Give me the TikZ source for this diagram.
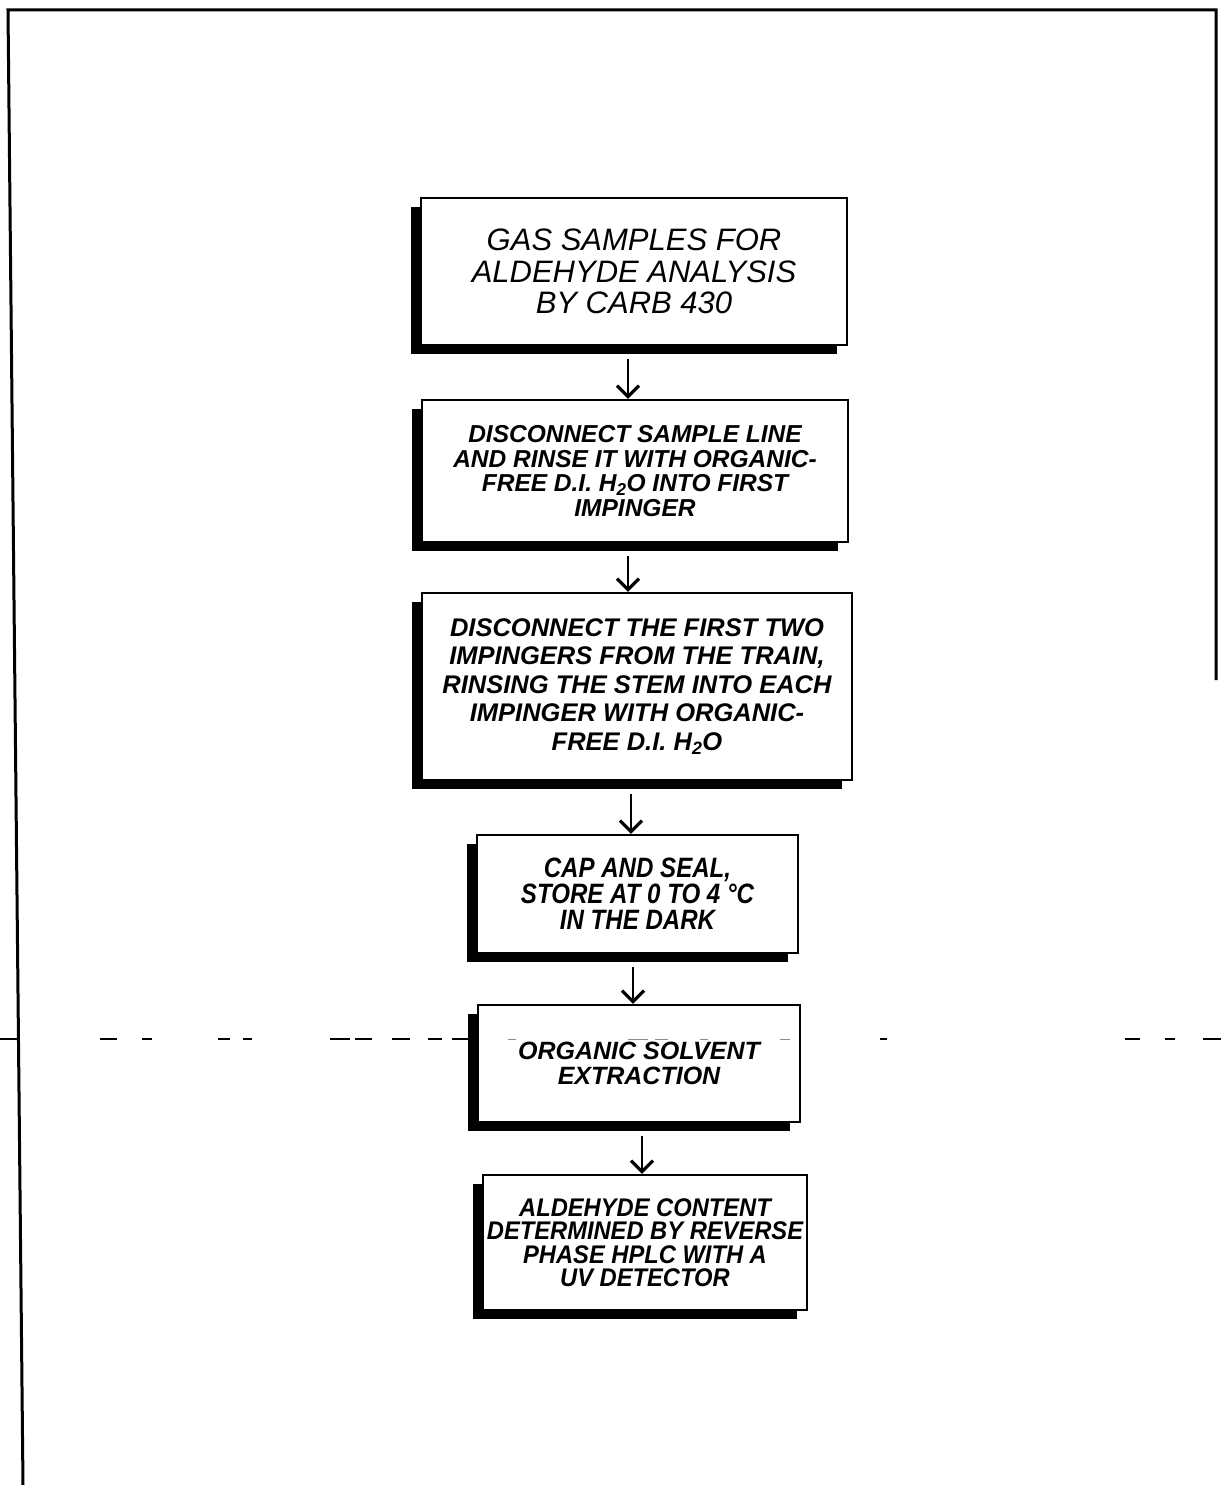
\documentclass[tikz,border=0pt]{standalone}
\usepackage{fontspec}
\setmainfont{Liberation Sans}
\newfontfamily\condfont[FakeStretch=0.86]{Liberation Sans}
\newfontfamily\semicondfont[FakeStretch=0.93]{Liberation Sans}
\usetikzlibrary{arrows.meta,shadows}
\tikzset{
  stepbox/.style={draw, line width=2.4pt, fill=white, rectangle, inner sep=0pt, align=center,
    general shadow={fill=black, shadow xshift=-10pt, shadow yshift=-9pt}},
  arr/.style={line width=2pt, -{Straight Barb[length=11pt,width=22pt,line width=3.2pt]}},
  frame/.style={line width=3pt},
  cut/.style={line width=2pt},
  faintcut/.style={line width=1pt, black!45},
}
\begin{document}
\begin{tikzpicture}[x=1pt,y=-1pt]
\useasboundingbox (0,0) rectangle (1221,1485);
% frame
\draw[frame] (23,1485) -- (8,10) -- (1216,10) -- (1216,680);
% boxes
\node[stepbox, minimum width=426pt, minimum height=147pt,
  font=\fontsize{31}{31.5}\selectfont\itshape] (b1) at (634,271.5)
  {GAS SAMPLES FOR\\ALDEHYDE ANALYSIS\\BY CARB 430};
\node[stepbox, minimum width=426pt, minimum height=142pt,
  font=\fontsize{24.5}{24.5}\selectfont\bfseries\itshape] (b2) at (635,471)
  {DISCONNECT SAMPLE LINE\\AND RINSE IT WITH ORGANIC-\\FREE D.I. H\textsubscript{2}O INTO FIRST\\IMPINGER};
\node[stepbox, minimum width=430pt, minimum height=187pt,
  font=\fontsize{25.5}{28.5}\selectfont\bfseries\itshape] (b3) at (637,686.5)
  {DISCONNECT THE FIRST TWO\\IMPINGERS FROM THE TRAIN,\\RINSING THE STEM INTO EACH\\IMPINGER WITH ORGANIC-\\FREE D.I. H\textsubscript{2}O};
\node[stepbox, minimum width=321pt, minimum height=118pt,
  font=\condfont\fontsize{28}{26}\selectfont\bfseries\itshape] (b4) at (637.5,894)
  {CAP AND SEAL,\\STORE AT 0 TO 4 °C\\IN THE DARK};
\node[stepbox, minimum width=322pt, minimum height=117pt,
  font=\fontsize{25}{25}\selectfont\bfseries\itshape] (b5) at (639,1063.5)
  {ORGANIC SOLVENT\\EXTRACTION};
\node[stepbox, minimum width=324pt, minimum height=135pt,
  font=\semicondfont\fontsize{25.5}{23.5}\selectfont\bfseries\itshape] (b6) at (645,1242.5)
  {ALDEHYDE CONTENT\\DETERMINED BY REVERSE\\PHASE HPLC WITH A\\UV DETECTOR};
% arrow columns
\coordinate (a1) at (628,0);
\coordinate (a2) at (628,0);
\coordinate (a3) at (631,0);
\coordinate (a4) at (633,0);
\coordinate (a5) at (642,0);
\draw[arr] ([yshift=-13pt]b1.south -| a1) -- (b2.north -| a1);
\draw[arr] ([yshift=-13pt]b2.south -| a2) -- (b3.north -| a2);
\draw[arr] ([yshift=-13pt]b3.south -| a3) -- (b4.north -| a3);
\draw[arr] ([yshift=-13pt]b4.south -| a4) -- (b5.north -| a4);
\draw[arr] ([yshift=-13pt]b5.south -| a5) -- (b6.north -| a5);
% broken cut line
\foreach \xa/\xb in {0/20,100/117,142/152,218/230,243/252,330/350,355/372,392/410,428/442,452/475,
  880/887,1125/1140,1165/1175,1203/1221}
  \draw[cut] (\xa,1039) -- (\xb,1039);
\foreach \xa/\xb in {508/516,628/648,655/668,700/708,780/790}
  \draw[faintcut] (\xa,1039) -- (\xb,1039);
\end{tikzpicture}
\end{document}
